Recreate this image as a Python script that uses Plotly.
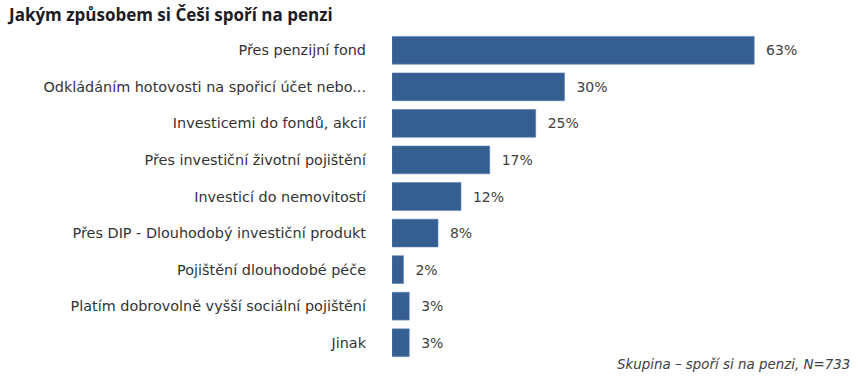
import plotly.graph_objects as go

categories = [
    "Přes penzijní fond",
    "Odkládáním hotovosti na spořicí účet nebo...",
    "Investicemi do fondů, akcií",
    "Přes investiční životní pojištění",
    "Investicí do nemovitostí",
    "Přes DIP - Dlouhodobý investiční produkt",
    "Pojištění dlouhodobé péče",
    "Platím dobrovolně vyšší sociální pojištění",
    "Jinak",
]
values = [63, 30, 25, 17, 12, 8, 2, 3, 3]
value_labels = [f"\u00a0\u00a0{v}%" for v in values]

title_text = "Jakým způsobem si Češi spoří na penzi"
note_text = "Skupina – spoří si na penzi, N=733"

W, H = 860, 378
L, R, T, B = 392, 0, 32, 17
PW = W - L - R

fig = go.Figure(
    go.Bar(
        y=categories,
        x=values,
        orientation="h",
        marker=dict(color="#365F91", line=dict(color="#5A7FAE", width=0.6)),
        text=value_labels,
        textposition="outside",
        textfont=dict(family="DejaVu Sans", size=14, color="#404040"),
        cliponaxis=False,
        width=0.76,
    )
)

fig.update_layout(
    width=W,
    height=H,
    margin=dict(l=L, r=R, t=T, b=B),
    paper_bgcolor="white",
    plot_bgcolor="white",
    showlegend=False,
)
fig.update_xaxes(range=[0, 81.4], visible=False)
fig.update_yaxes(
    autorange="reversed",
    showgrid=False,
    showline=False,
    ticks="",
    ticklabelstandoff=25,
    tickfont=dict(family="DejaVu Sans", size=14.4, color="#333333"),
)

fig.add_annotation(
    text=title_text,
    xref="paper", yref="paper",
    x=(5 - L) / PW, y=1,
    xanchor="left", yanchor="top",
    yshift=T - 1,
    showarrow=False,
    font=dict(family="Open Sans", size=17, color="#1C1C24", weight="bold"),
)
fig.add_annotation(
    text="<i>" + note_text + "</i>",
    xref="paper", yref="paper",
    x=(852 - L) / PW, y=0,
    xanchor="right", yanchor="middle",
    yshift=-3,
    showarrow=False,
    font=dict(family="DejaVu Sans", size=13.4, color="#404040"),
)

# remove the browser's default 8px body margin so the figure fills the window
fig.write_html(
    "out.html",
    config={"displayModeBar": False},
    post_script="document.body.style.margin='0';",
)
